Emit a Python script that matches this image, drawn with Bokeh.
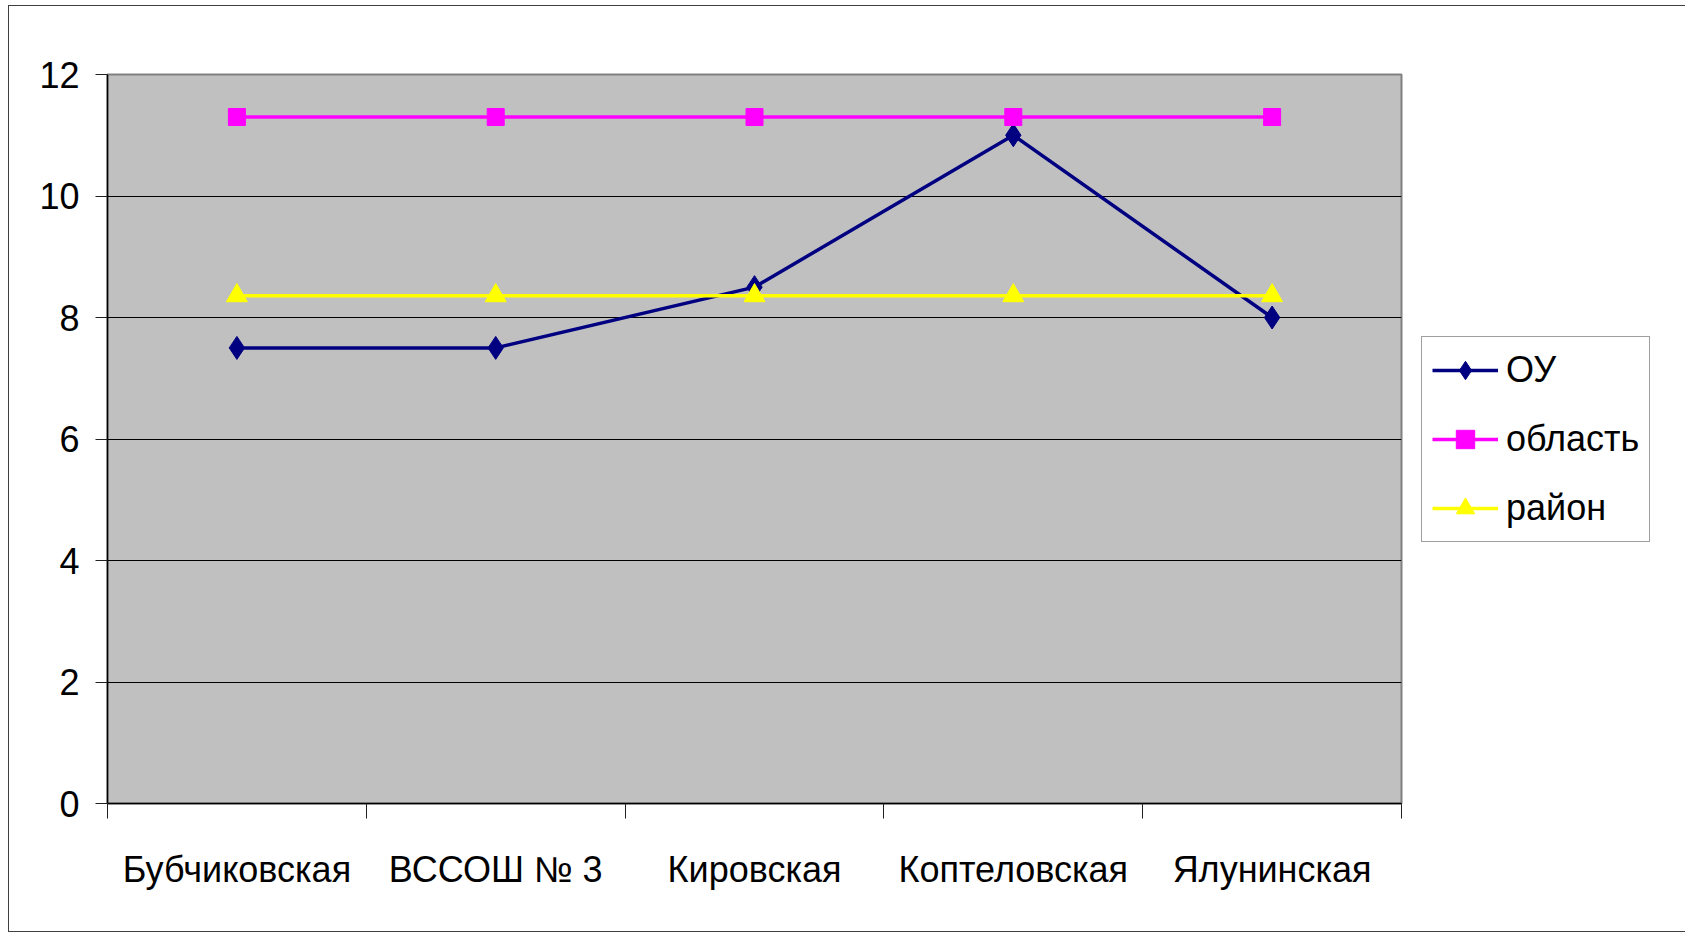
from bokeh.plotting import figure
from bokeh.models import FixedTicker, Legend, LegendItem, Range1d
from bokeh.embed import file_html
from bokeh.resources import INLINE

categories = ["Бубчиковская", "ВССОШ № 3", "Кировская", "Копteловская".replace("te", "те"), "Ялунинская"]
ou = [7.5, 7.5, 8.5, 11.0, 8.0]
oblast = [11.3, 11.3, 11.3, 11.3, 11.3]
raion = [8.36, 8.36, 8.36, 8.36, 8.36]
y_ticks = [0, 2, 4, 6, 8, 10, 12]

FONT = "Liberation Sans"

xs = [i + 0.5 for i in range(len(categories))]

p = figure(frame_width=1294, frame_height=729, output_backend="svg", toolbar_location=None,
           x_range=Range1d(0, len(categories)), y_range=Range1d(0, 12),
           min_border_left=98, min_border_right=272, min_border_top=68, min_border_bottom=128)
p.styles = {"border": "1px solid #404040", "margin-left": "8px", "margin-top": "5px"}
p.background_fill_color = "#C0C0C0"
p.border_fill_color = "white"
p.outline_line_color = "#808080"
p.outline_line_width = 2

# x axis
p.xaxis.ticker = FixedTicker(ticks=xs, minor_ticks=list(range(len(categories) + 1)))
p.xaxis.major_label_overrides = {x: c for x, c in zip(xs, categories)}
p.xaxis.major_tick_line_color = None
p.xaxis.major_tick_out = 0
p.xaxis.major_tick_in = 0
p.xaxis.minor_tick_line_color = "#202020"
p.xaxis.minor_tick_out = 15
p.xaxis.minor_tick_in = 0
p.xaxis.major_label_standoff = 30
p.xaxis.axis_line_color = "black"
p.xaxis.axis_line_width = 1.5

# y axis
p.yaxis.ticker = FixedTicker(ticks=y_ticks, minor_ticks=[])
p.yaxis.major_tick_out = 12
p.yaxis.major_tick_in = 0
p.yaxis.major_tick_line_color = "#202020"
p.yaxis.major_label_standoff = 16
p.yaxis.axis_line_color = "black"
p.yaxis.axis_line_width = 1.5

for ax in (p.xaxis, p.yaxis):
    ax.major_label_text_font = FONT
    ax.major_label_text_font_size = "36px"
    ax.major_label_text_color = "black"

p.xgrid.grid_line_color = None
p.ygrid.ticker = FixedTicker(ticks=[2, 4, 6, 8, 10])
p.ygrid.grid_line_color = "black"
p.ygrid.grid_line_width = 1

l1 = p.line(xs, ou, line_color="#000080", line_width=3.5)
m1 = p.scatter(xs, ou, marker="diamond", size=23, fill_color="#000080", line_color="#000080")
l2 = p.line(xs, oblast, line_color="#FF00FF", line_width=3.5)
m2 = p.scatter(xs, oblast, marker="square", size=17, fill_color="#FF00FF", line_color="#FF00FF")
l3 = p.line(xs, raion, line_color="#FFFF00", line_width=3.5)
m3 = p.scatter(xs, raion, marker="triangle", size=21, fill_color="#FFFF00", line_color="#FFFF00")

legend = Legend(items=[
    LegendItem(label="ОУ", renderers=[l1, m1]),
    LegendItem(label="область", renderers=[l2, m2]),
    LegendItem(label="район", renderers=[l3, m3]),
], location="center_left")
legend.label_text_font = FONT
legend.label_text_font_size = "36px"
legend.label_text_color = "black"
legend.glyph_width = 66
legend.glyph_height = 46
legend.label_height = 46
legend.spacing = 23
legend.padding = 10
legend.label_standoff = 8
legend.border_line_color = "#404040"
legend.border_line_width = 1.5
legend.background_fill_color = "white"
legend.background_fill_alpha = 1
legend.margin = 20
p.add_layout(legend, "right")

open("out.html", "w").write(file_html(p, INLINE))
